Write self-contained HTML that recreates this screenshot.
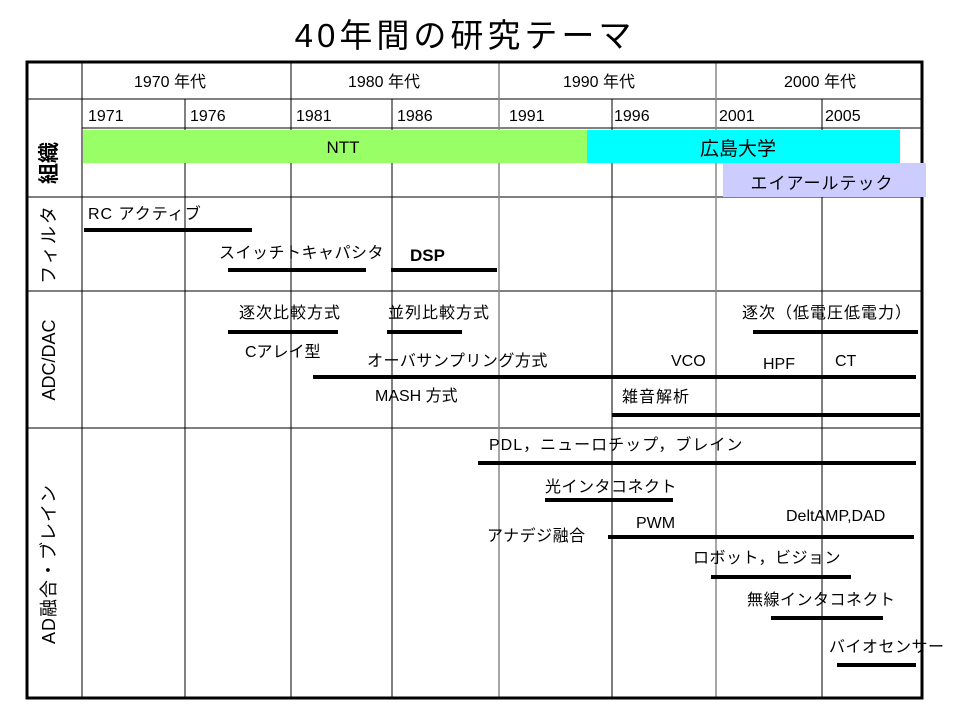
<!DOCTYPE html>
<html><head><meta charset="utf-8"><style>
body{margin:0;background:#fff;}
svg text{font-family:"Liberation Sans","Noto Sans CJK JP",sans-serif;fill:#000;}
</style></head><body>
<svg width="960" height="720" xmlns="http://www.w3.org/2000/svg">
<rect width="960" height="720" fill="#fff"/>
<text x="465" y="47" font-size="33" text-anchor="middle" letter-spacing="4">40年間の研究テーマ</text>
<g stroke="#000" stroke-width="1">
<line x1="26" y1="99" x2="922" y2="99"/>
<line x1="82" y1="128" x2="922" y2="128"/>
<line x1="26" y1="197" x2="922" y2="197"/>
<line x1="26" y1="291" x2="922" y2="291"/>
<line x1="26" y1="428" x2="922" y2="428"/>
<line x1="82" y1="62" x2="82" y2="698"/>
<line x1="291" y1="62" x2="291" y2="698"/>
<line x1="185" y1="99" x2="185" y2="698"/>
<line x1="392" y1="99" x2="392" y2="698"/>
<line x1="612" y1="99" x2="612" y2="698"/>
<line x1="822" y1="99" x2="822" y2="698"/>
</g>
<g stroke="#888" stroke-width="1.5">
<line x1="499" y1="62" x2="499" y2="698"/>
<line x1="716" y1="62" x2="716" y2="698"/>
</g>
<rect x="27" y="62" width="895" height="636" fill="none" stroke="#000" stroke-width="3"/>
<rect x="83" y="130" width="505" height="33" fill="#99ff66"/>
<rect x="587" y="130" width="313" height="33" fill="#00ffff"/>
<rect x="723" y="163" width="203" height="34" fill="#ccccff"/>
<g font-size="16" text-anchor="middle">
<text x="170" y="87">1970 年代</text>
<text x="384" y="87">1980 年代</text>
<text x="599" y="87">1990 年代</text>
<text x="820" y="87">2000 年代</text>
</g>
<g font-size="16">
<text x="88" y="121">1971</text><text x="190" y="121">1976</text>
<text x="296" y="121">1981</text><text x="397" y="121">1986</text>
<text x="509" y="121">1991</text><text x="614" y="121">1996</text>
<text x="719" y="121">2001</text><text x="825" y="121">2005</text>
</g>
<text x="343" y="153" font-size="17" text-anchor="middle">NTT</text>
<text x="738" y="155" font-size="19" text-anchor="middle">広島大学</text>
<text x="822" y="189" font-size="17" text-anchor="middle" letter-spacing="1">エイアールテック</text>
<g font-size="18" text-anchor="middle">
<text transform="translate(56,163) rotate(-90)" font-size="21" font-weight="bold">組織</text>
<text transform="translate(55,244) rotate(-90)" letter-spacing="2">フィルタ</text>
<text transform="translate(55,360) rotate(-90)">ADC/DAC</text>
<text transform="translate(55,564) rotate(-90)" letter-spacing="1">AD融合・ブレイン</text>
</g>
<g stroke="#000" stroke-width="4">
<line x1="84" y1="230" x2="252" y2="230"/>
<line x1="228" y1="270" x2="366" y2="270"/>
<line x1="391" y1="270" x2="497" y2="270"/>
<line x1="228" y1="332" x2="338" y2="332"/>
<line x1="387" y1="332" x2="462" y2="332"/>
<line x1="753" y1="332" x2="918" y2="332"/>
<line x1="313" y1="377" x2="916" y2="377"/>
<line x1="612" y1="415" x2="920" y2="415"/>
<line x1="478" y1="463" x2="916" y2="463"/>
<line x1="545" y1="500" x2="673" y2="500"/>
<line x1="608" y1="537" x2="914" y2="537"/>
<line x1="711" y1="577" x2="851" y2="577"/>
<line x1="771" y1="618" x2="883" y2="618"/>
<line x1="837" y1="665" x2="916" y2="665"/>
</g>
<g font-size="16">
<text x="88" y="219" letter-spacing="1">RC アクティブ</text>
<text x="219" y="258" letter-spacing="0.5">スイッチトキャパシタ</text>
<text x="410" y="261" font-weight="bold" font-size="17">DSP</text>
<text x="239" y="318" letter-spacing="1">逐次比較方式</text>
<text x="388" y="318" letter-spacing="1">並列比較方式</text>
<text x="742" y="318" letter-spacing="1">逐次（低電圧低電力）</text>
<text x="245" y="357">Cアレイ型</text>
<text x="367" y="366" letter-spacing="0.5">オーバサンプリング方式</text>
<text x="671" y="366">VCO</text>
<text x="763" y="369">HPF</text>
<text x="835" y="366">CT</text>
<text x="375" y="401">MASH 方式</text>
<text x="622" y="402" letter-spacing="1">雑音解析</text>
<text x="489" y="450" letter-spacing="1">PDL，ニューロチップ，ブレイン</text>
<text x="545" y="492" letter-spacing="0.5">光インタコネクト</text>
<text x="636" y="528">PWM</text>
<text x="786" y="521">DeltAMP,DAD</text>
<text x="487" y="541" letter-spacing="0.5">アナデジ融合</text>
<text x="693" y="563" letter-spacing="0.5">ロボット，ビジョン</text>
<text x="747" y="605" letter-spacing="0.5">無線インタコネクト</text>
<text x="829" y="652" letter-spacing="0.5">バイオセンサー</text>
</g>
</svg>
</body></html>
